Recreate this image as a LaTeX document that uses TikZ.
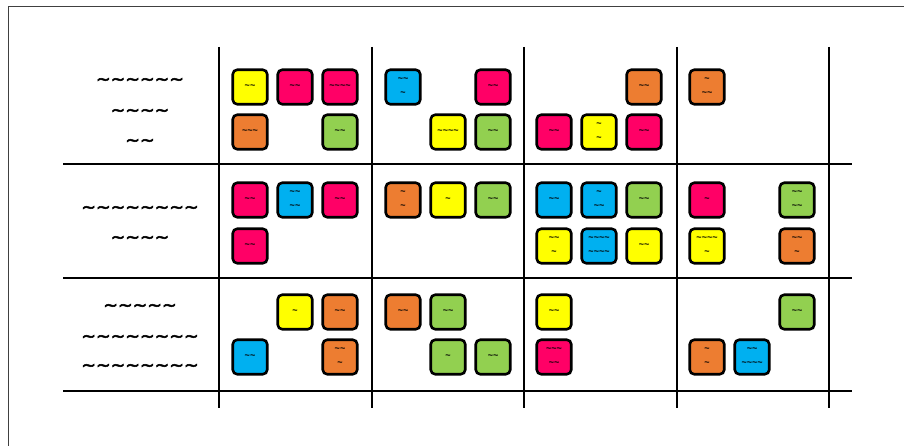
\documentclass[tikz,border=0pt]{standalone}
\usepackage{fontspec}
\setmainfont{Liberation Sans}
\newfontfamily\lblfont[FakeBold=3]{DejaVu Sans}
\definecolor{nyellow}{HTML}{FFFF00}
\definecolor{npink}{HTML}{FF0066}
\definecolor{nblue}{HTML}{00B0F0}
\definecolor{ngreen}{HTML}{92D050}
\definecolor{norange}{HTML}{ED7D31}
\newcommand\Tq{\textasciitilde}
\begin{document}
\begin{tikzpicture}[x=1pt,y=-1pt,
  note/.style={draw, line width=2.6pt, rounded corners=4.5pt, minimum width=34.5pt,
    minimum height=34.5pt, inner sep=0pt, align=center, font=\bfseries\fontsize{9}{14}\selectfont},
  gridline/.style={line width=2.4pt},
  lbl/.style={font=\lblfont\fontsize{17.5}{30}\selectfont, inner sep=0pt, text height=8pt, text depth=0pt}]
\useasboundingbox (0,0) rectangle (904,446);
\clip (0,0) rectangle (904,446);
\draw[line width=0.8pt, black!75] (8.5,6.5) rectangle (930,470);
% grid
\foreach \x [count=\i] in {219,372,524,677,829}{
  \coordinate (vt\i) at (\x,47); \coordinate (vb\i) at (\x,408);
  \draw[gridline] (vt\i) -- (vb\i);}
\foreach \y [count=\i] in {164,278,391}{
  \coordinate (hl\i) at (63,\y); \coordinate (hr\i) at (852,\y);
  \draw[gridline] (hl\i) -- (hr\i);}
% row labels
\node[lbl] (l1a) at (140,81) {\Tq\Tq\Tq\Tq\Tq\Tq};
\node[lbl] (l1b) at (140,112) {\Tq\Tq\Tq\Tq};
\node[lbl] (l1c) at (140,142) {\Tq\Tq};
\node[lbl] (l2a) at (140,209) {\Tq\Tq\Tq\Tq\Tq\Tq\Tq\Tq};
\node[lbl] (l2b) at (140,239) {\Tq\Tq\Tq\Tq};
\node[lbl] (l3a) at (140,307) {\Tq\Tq\Tq\Tq\Tq};
\node[lbl] (l3b) at (140,338) {\Tq\Tq\Tq\Tq\Tq\Tq\Tq\Tq};
\node[lbl] (l3c) at (140,367) {\Tq\Tq\Tq\Tq\Tq\Tq\Tq\Tq};
% row 1
\node[note, fill=nyellow] (a11) at (250,87) {\Tq\Tq};
\node[note, fill=npink] (a12) at (295,87) {\Tq\Tq};
\node[note, fill=npink] (a13) at (340,87) {\Tq\Tq\Tq\Tq};
\node[note, fill=norange] (a14) at (250,132) {\Tq\Tq\Tq};
\node[note, fill=ngreen] (a15) at (340,132) {\Tq\Tq};
\node[note, fill=nblue] (a21) at (403,87) {\Tq\Tq\\\Tq};
\node[note, fill=npink] (a22) at (493,87) {\Tq\Tq};
\node[note, fill=nyellow] (a23) at (448,132) {\Tq\Tq\Tq\Tq};
\node[note, fill=ngreen] (a24) at (493,132) {\Tq\Tq};
\node[note, fill=norange] (a31) at (644,87) {\Tq\Tq};
\node[note, fill=npink] (a32) at (554,132) {\Tq\Tq};
\node[note, fill=nyellow] (a33) at (599,132) {\Tq\\\Tq};
\node[note, fill=npink] (a34) at (644,132) {\Tq\Tq};
\node[note, fill=norange] (a41) at (707,87) {\Tq\\\Tq\Tq};
% row 2
\node[note, fill=npink] (b11) at (250,200) {\Tq\Tq};
\node[note, fill=nblue] (b12) at (295,200) {\Tq\Tq\\\Tq\Tq};
\node[note, fill=npink] (b13) at (340,200) {\Tq\Tq};
\node[note, fill=npink] (b14) at (250,246) {\Tq\Tq};
\node[note, fill=norange] (b21) at (403,200) {\Tq\\\Tq};
\node[note, fill=nyellow] (b22) at (448,200) {\Tq};
\node[note, fill=ngreen] (b23) at (493,200) {\Tq\Tq};
\node[note, fill=nblue] (b31) at (554,200) {\Tq\Tq};
\node[note, fill=nblue] (b32) at (599,200) {\Tq\\\Tq\Tq};
\node[note, fill=ngreen] (b33) at (644,200) {\Tq\Tq};
\node[note, fill=nyellow] (b34) at (554,246) {\Tq\Tq\\\Tq};
\node[note, fill=nblue] (b35) at (599,246) {\Tq\Tq\Tq\Tq\\\Tq\Tq\Tq\Tq};
\node[note, fill=nyellow] (b36) at (644,246) {\Tq\Tq};
\node[note, fill=npink] (b41) at (707,200) {\Tq};
\node[note, fill=ngreen] (b42) at (797,200) {\Tq\Tq\\\Tq\Tq};
\node[note, fill=nyellow] (b43) at (707,246) {\Tq\Tq\Tq\Tq\\\Tq};
\node[note, fill=norange] (b44) at (797,246) {\Tq\Tq\\\Tq};
% row 3
\node[note, fill=nyellow] (c11) at (295,312) {\Tq};
\node[note, fill=norange] (c12) at (340,312) {\Tq\Tq};
\node[note, fill=nblue] (c13) at (250,357) {\Tq\Tq};
\node[note, fill=norange] (c14) at (340,357) {\Tq\Tq\\\Tq};
\node[note, fill=norange] (c21) at (403,312) {\Tq\Tq};
\node[note, fill=ngreen] (c22) at (448,312) {\Tq\Tq};
\node[note, fill=ngreen] (c23) at (448,357) {\Tq};
\node[note, fill=ngreen] (c24) at (493,357) {\Tq\Tq};
\node[note, fill=nyellow] (c31) at (554,312) {\Tq\Tq};
\node[note, fill=npink] (c32) at (554,357) {\Tq\Tq\Tq\\\Tq\Tq};
\node[note, fill=ngreen] (c41) at (797,312) {\Tq\Tq};
\node[note, fill=norange] (c42) at (707,357) {\Tq\\\Tq};
\node[note, fill=nblue] (c43) at (752,357) {\Tq\Tq\\\Tq\Tq\Tq\Tq};
\end{tikzpicture}
\end{document}
